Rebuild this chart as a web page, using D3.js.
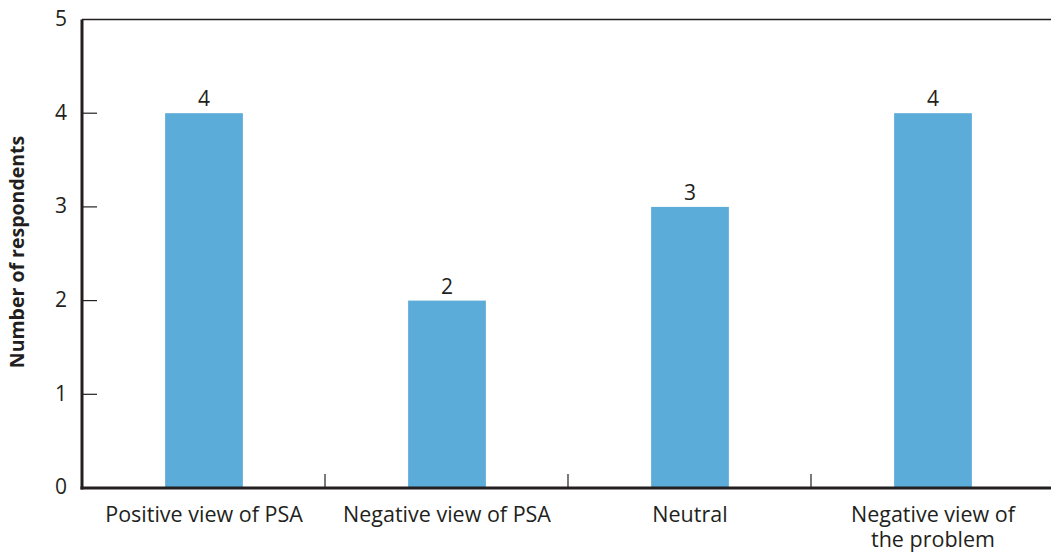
<!DOCTYPE html>
<html><head><meta charset="utf-8">
<script src="https://cdn.jsdelivr.net/npm/d3@7"></script>
<style>body{margin:0;background:#fff;} text{font-family:"Open Sans","Noto Sans",sans-serif;fill:#231f20;}</style>
</head><body><svg id="c" width="1051" height="552"></svg>
<script>
const categories = [["Positive view of PSA"],["Negative view of PSA"],["Neutral"],["Negative view of","the problem"]];
const values = [4,2,3,4];
const yTicks = [0,1,2,3,4,5];
const yTitle = "Number of respondents";

const svg = d3.select("#c");
const L=82, R=1054, T=19.5, B=488;
const x = d3.scaleBand().domain(d3.range(values.length)).range([L,R]).paddingInner(0).paddingOuter(0);
const y = d3.scaleLinear().domain([0,5]).range([B,T]);
const bw = x.bandwidth()*0.32;

svg.selectAll("rect.bar").data(values).join("rect")
  .attr("x",(d,i)=>x(i)+x.bandwidth()/2-bw/2+0.5).attr("width",bw)
  .attr("y",d=>y(d)).attr("height",d=>B-y(d)).attr("fill","#5cacda");

svg.selectAll("text.val").data(values).join("text")
  .attr("x",(d,i)=>x(i)+x.bandwidth()/2+0.5).attr("y",d=>y(d)-7)
  .attr("text-anchor","middle").attr("font-size",21).text(d=>d);

// top line
svg.append("line").attr("x1",L).attr("x2",1051).attr("y1",T).attr("y2",T).attr("stroke","#231f20").attr("stroke-width",1.5);
// y ticks
svg.selectAll("line.yt").data(yTicks.filter(d=>d>0&&d<5)).join("line")
  .attr("x1",L).attr("x2",L+15).attr("y1",d=>y(d)).attr("y2",d=>y(d)).attr("stroke","#231f20").attr("stroke-width",1.2);
svg.selectAll("text.yl").data(yTicks).join("text")
  .attr("x",67).attr("y",d=>y(d)).attr("dy","0.3em").attr("text-anchor","end").attr("font-size",21).text(d=>d);
// x ticks at band boundaries
svg.selectAll("line.xt").data(d3.range(1,values.length)).join("line")
  .attr("x1",i=>x(i)).attr("x2",i=>x(i)).attr("y1",B).attr("y2",B-14).attr("stroke","#231f20").attr("stroke-width",1.2);
// axes
svg.append("line").attr("x1",L).attr("x2",L).attr("y1",T).attr("y2",B+1.5).attr("stroke","#231f20").attr("stroke-width",3);
svg.append("line").attr("x1",L-1.5).attr("x2",1051).attr("y1",B).attr("y2",B).attr("stroke","#231f20").attr("stroke-width",3);
// category labels
categories.forEach((lines,i)=>{
  const t = svg.append("text").attr("x",x(i)+x.bandwidth()/2+0.5).attr("y",522).attr("text-anchor","middle").attr("font-size",21.5);
  lines.forEach((s,j)=>t.append("tspan").attr("x",x(i)+x.bandwidth()/2+0.5).attr("dy",j?25:0).text(s));
});
svg.append("text").attr("transform","translate(24,252) rotate(-90)").attr("text-anchor","middle")
  .attr("font-size",19.5).attr("font-weight","bold").text(yTitle);
</script></body></html>
